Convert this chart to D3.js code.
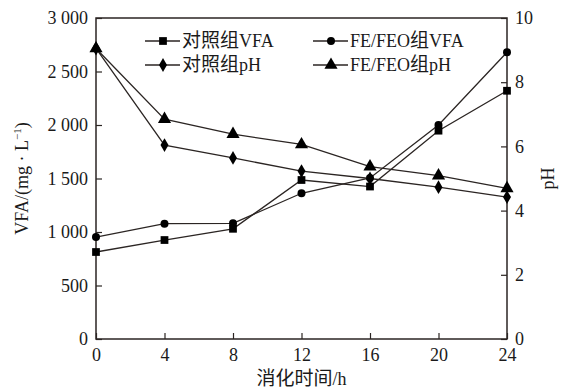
<!DOCTYPE html>
<html lang="zh">
<head>
<meta charset="UTF-8">
<title>VFA 与 pH</title>
<script src="https://d3js.org/d3.v7.min.js"></script>
<style>
  body { margin: 0; background: #fff; }
  svg text { font-family: "Liberation Serif", "Noto Sans CJK SC", serif; fill: #1a1a1a; }
  .cjk { font-size: 19px; }
</style>
</head>
<body>
<div id="chart"></div>
<script>
  // 消化时间/h
  const hours = [0, 4, 8, 12, 16, 20, 24];
  const xTicks = [0, 4, 8, 12, 16, 20, 24];
  const vfaTicks = [0, 500, 1000, 1500, 2000, 2500, 3000];
  const phTicks = [0, 2, 4, 6, 8, 10];

  const ctrlVFA = [813, 925, 1030, 1486, 1425, 1947, 2320];
  const feVFA = [953, 1078, 1081, 1362, 1505, 2000, 2680];
  const ctrlPH = [9.05, 6.04, 5.64, 5.23, 5.0, 4.73, 4.42];
  const fePH = [9.05, 6.85, 6.38, 6.06, 5.37, 5.09, 4.69];

  const W = 565, H = 390;
  const m = { left: 96, right: 58, top: 18, bottom: 51 };
  const ink = "#2b2523";
  const serif = '"Liberation Serif", "Noto Sans CJK SC", serif';

  const svg = d3.select("#chart").append("svg")
    .attr("width", W).attr("height", H);

  const x = d3.scaleLinear().domain([0, 24]).range([m.left, W - m.right]);
  const yL = d3.scaleLinear().domain([0, 3000]).range([H - m.bottom, m.top]);
  const yR = d3.scaleLinear().domain([0, 10]).range([H - m.bottom, m.top]);

  const fmt = d => d3.format(",")(d).replace(",", " ");

  // wrap the CJK runs of a label in their own tspans (slightly larger)
  function mixed(sel, str) {
    const runs = str.match(/[\u4e00-\u9fff]+|[^\u4e00-\u9fff]+/g);
    runs.forEach(r => {
      const t = sel.append("tspan").text(r);
      if (/[\u4e00-\u9fff]/.test(r)) t.attr("class", "cjk");
    });
  }

  // frame
  svg.append("rect")
    .attr("x", m.left).attr("y", m.top)
    .attr("width", W - m.right - m.left).attr("height", H - m.bottom - m.top)
    .attr("fill", "none").attr("stroke", ink).attr("stroke-width", 1.5);

  // axes with inward ticks
  const gx = svg.append("g").attr("transform", `translate(0,${H - m.bottom})`)
    .call(d3.axisBottom(x).tickValues(xTicks).tickSizeInner(-6).tickSizeOuter(0).tickPadding(7));
  const gl = svg.append("g").attr("transform", `translate(${m.left},0)`)
    .call(d3.axisLeft(yL).tickValues(vfaTicks).tickFormat(fmt).tickSizeInner(-6).tickSizeOuter(0).tickPadding(8));
  const gr = svg.append("g").attr("transform", `translate(${W - m.right},0)`)
    .call(d3.axisRight(yR).tickValues(phTicks).tickSizeInner(-6).tickSizeOuter(0).tickPadding(8));

  [gx, gl, gr].forEach(g => {
    g.attr("font-family", null).attr("font-size", null);
    g.select(".domain").remove();
    g.selectAll("line").attr("stroke", ink).attr("stroke-width", 1.2);
    g.selectAll("text").style("font-size", "18px")
      .style("font-family", serif).attr("fill", "#1a1a1a");
  });
  gx.selectAll("text").attr("dy", "0.85em");

  // axis titles
  svg.append("text")
    .attr("transform", `translate(28,${(m.top + H - m.bottom) / 2}) rotate(-90)`)
    .attr("text-anchor", "middle").style("font-size", "18px")
    .html('VFA/(mg · L<tspan dy="-7" font-size="11">−1</tspan><tspan dy="7">)</tspan>');
  svg.append("text")
    .attr("transform", `translate(554,${(m.top + H - m.bottom) / 2}) rotate(-90)`)
    .attr("text-anchor", "middle").style("font-size", "18px")
    .text("pH");
  const xt = svg.append("text")
    .attr("x", (m.left + W - m.right) / 2).attr("y", 385)
    .attr("text-anchor", "middle").style("font-size", "18px");
  mixed(xt, "消化时间/h");

  const series = [
    { name: "对照组VFA", values: ctrlVFA, y: yL, sym: d3.symbolSquare, size: 60 },
    { name: "FE/FEO组VFA", values: feVFA, y: yL, sym: d3.symbolCircle, size: 50 },
    { name: "对照组pH", values: ctrlPH, y: yR, sym: d3.symbolDiamond, size: 55 },
    { name: "FE/FEO组pH", values: fePH, y: yR, sym: d3.symbolTriangle, size: 75 }
  ];

  series.forEach(s => {
    const pts = hours.map((h, i) => [x(h), s.y(s.values[i])]);
    svg.append("path")
      .attr("d", d3.line()(pts))
      .attr("fill", "none").attr("stroke", ink).attr("stroke-width", 1.3);
    svg.selectAll(null).data(pts).enter().append("path")
      .attr("transform", d => `translate(${d[0]},${d[1]})`)
      .attr("d", d3.symbol().type(s.sym).size(s.size))
      .attr("fill", "#000");
  });

  // legend: 2 columns x 2 rows
  const legPos = [[145, 41], [313, 41], [145, 65], [313, 65]];
  series.forEach((s, i) => {
    const [lx, ly] = legPos[i];
    const g = svg.append("g").attr("transform", `translate(${lx},${ly})`);
    g.append("line").attr("x1", 0).attr("x2", 35).attr("y1", 0).attr("y2", 0)
      .attr("stroke", ink).attr("stroke-width", 1.3);
    g.append("path").attr("transform", "translate(18,0)")
      .attr("d", d3.symbol().type(s.sym).size(s.size)).attr("fill", "#000");
    const t = g.append("text").attr("x", 37).attr("y", 0).attr("dy", "0.35em")
      .style("font-size", "18px");
    mixed(t, s.name);
  });
</script>
</body>
</html>
